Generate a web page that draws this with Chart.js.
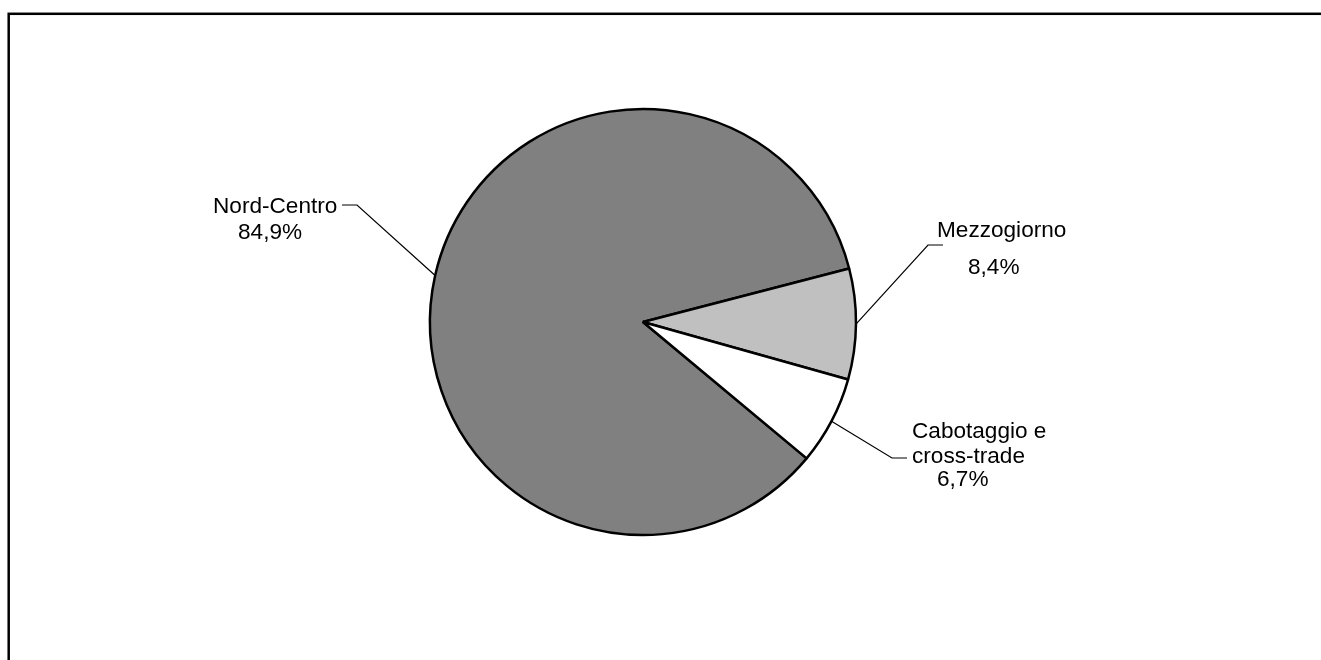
<!DOCTYPE html>
<html lang="it">
<head>
    <meta charset="UTF-8">
    <title>Nord-Centro / Mezzogiorno / Cabotaggio</title>
    <script src="https://cdn.jsdelivr.net/npm/chart.js"></script>
    <style>
        body {
            margin: 0;
            background: #ffffff;
        }
        #wrap {
            width: 1321px;
            height: 660px;
            position: relative;
        }
    </style>
</head>
<body>
<div id="wrap">
    <canvas id="pieChart" width="1321" height="660"></canvas>
</div>

<script>
    // data
    const categories = ['Nord-Centro', 'Mezzogiorno', 'Cabotaggio e cross-trade'];
    const shares = [84.9, 8.4, 6.7];
    const sliceColors = ['#808080', '#c0c0c0', '#ffffff'];

    // label lines as written on the chart
    const labelLines = [
        ['Nord-Centro'],
        ['Mezzogiorno'],
        ['Cabotaggio e', 'cross-trade']
    ];

    // where each label sits and where its leader line bends (canvas px)
    const labelLayout = [
        { lines: [[213, 213]], pct: [238, 239], elbow: [357, 205], end: [342, 205] },
        { lines: [[937, 237]], pct: [968, 274], elbow: [928, 245], end: [943, 245] },
        { lines: [[912, 438], [912, 463]], pct: [937, 486], elbow: [892, 458], end: [907, 458] }
    ];

    const fmtPct = v => v.toFixed(1).replace('.', ',') + '%';

    // outer frame + labels with leader lines
    const decorPlugin = {
        id: 'decor',
        beforeDraw(chart) {
            const ctx = chart.ctx;
            ctx.save();
            ctx.fillStyle = '#ffffff';
            ctx.fillRect(0, 0, chart.width, chart.height);
            ctx.restore();
        },
        afterDraw(chart) {
            const ctx = chart.ctx;
            ctx.save();
            // frame (runs off the right and bottom edges)
            ctx.strokeStyle = '#000000';
            ctx.lineWidth = 2.5;
            ctx.strokeRect(8.7, 13.8, chart.width + 20, chart.height + 20);

            const arcs = chart.getDatasetMeta(0).data;
            ctx.font = '22.6px "Liberation Sans", Arial, sans-serif';
            ctx.fillStyle = '#000000';
            ctx.textBaseline = 'alphabetic';
            ctx.textAlign = 'left';

            arcs.forEach((arc, i) => {
                const p = arc.getProps(['x', 'y', 'startAngle', 'endAngle', 'outerRadius'], true);
                const mid = (p.startAngle + p.endAngle) / 2;
                const sx = p.x + Math.cos(mid) * p.outerRadius;
                const sy = p.y + Math.sin(mid) * p.outerRadius;
                const lay = labelLayout[i];

                ctx.beginPath();
                ctx.lineWidth = 1.2;
                ctx.moveTo(sx, sy);
                ctx.lineTo(lay.elbow[0], lay.elbow[1]);
                ctx.lineTo(lay.end[0], lay.end[1]);
                ctx.stroke();

                labelLines[i].forEach((txt, j) => {
                    ctx.fillText(txt, lay.lines[j][0], lay.lines[j][1]);
                });
                ctx.fillText(fmtPct(shares[i]), lay.pct[0], lay.pct[1]);
            });
            ctx.restore();
        }
    };

    new Chart(document.getElementById('pieChart'), {
        type: 'pie',
        data: {
            labels: categories,
            datasets: [{
                data: shares,
                backgroundColor: sliceColors,
                borderColor: '#000000',
                borderWidth: 2.5
            }]
        },
        options: {
            responsive: false,
            animation: false,
            rotation: 129.8,
            radius: 213,
            layout: {
                padding: { left: 0, right: 35, top: 0, bottom: 16 }
            },
            plugins: {
                legend: { display: false },
                tooltip: { enabled: false }
            }
        },
        plugins: [decorPlugin]
    });
</script>
</body>
</html>
